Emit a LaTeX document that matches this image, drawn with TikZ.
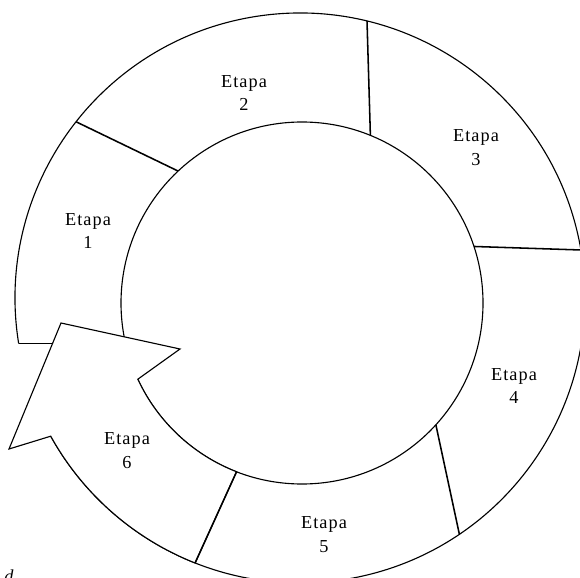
\documentclass[tikz,border=0pt]{standalone}
\usepackage{fontspec}
\setmainfont{Liberation Serif}
\newfontfamily\etapafont{Liberation Serif}[LetterSpace=6]

\begin{document}
\begin{tikzpicture}[
  ring/.style={line width=0.8pt},
  divider/.style={line width=1.1pt},
  etapa/.style={align=center,font=\etapafont\fontsize{13}{17}\selectfont}
]
\useasboundingbox (0,0) rectangle (14.5,14.425);
\coordinate (oc) at (7.5,6.975);
\coordinate (ic) at (7.55,6.85);
% outer and inner rim
\draw[ring] (oc) ++(189.2:7.125) coordinate (o1)
      arc[start angle=189.2,end angle=-151,radius=7.125];
\draw[ring] (ic) circle (4.525);
% borders between the stages
\foreach \n/\a/\b in {12/141.8/133.2, 23/76.4/67.8, 34/9.7/18.2, 45/-56/-42.3} {
  \path (oc) ++(\a:7.125) coordinate (o\n);
  \path (ic) ++(\b:4.525) coordinate (i\n);
  \draw[divider] (o\n) -- (i\n);
}
\draw[ring] (o1) -- ++(1.2,0);
% arrow head, stage 6
\path (ic) ++(204.9:4.525) coordinate (i6);
\path (ic) ++(248.8:4.525) coordinate (i56);
\path (oc) ++(248.4:7.125) coordinate (o56);
\coordinate (tipA) at (1.525,6.35);
\coordinate (tipB) at (4.5,5.7);
\coordinate (tipC) at (0.225,3.2);
\draw[ring,fill=white] (tipA) -- (tipB) -- (i6)
      arc[start angle=204.9,end angle=248.8,radius=4.525] -- (o56)
      arc[start angle=248.4,end angle=209,radius=7.125] -- (tipC) -- cycle;
\draw[divider] (i56) -- (o56);
% labels
\node[etapa] (e1) at (2.2,8.65) {Etapa\\1};
\node[etapa] (e2) at (6.1,12.1) {Etapa\\2};
\node[etapa] (e3) at (11.9,10.725) {Etapa\\3};
\node[etapa] (e4) at (12.85,4.775) {Etapa\\4};
\node[etapa] (e5) at (8.1,1.05) {Etapa\\5};
\node[etapa] (e6) at (3.175,3.15) {Etapa\\6};
\node[font=\itshape\fontsize{13}{17}\selectfont,anchor=base west,inner sep=0pt] (nota) at (0.1,-0.14) {d};
\end{tikzpicture}
\end{document}
